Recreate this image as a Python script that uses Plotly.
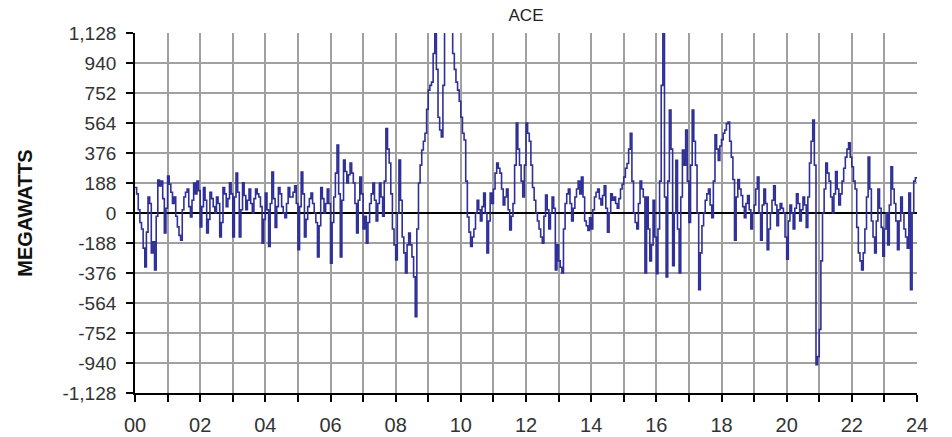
import plotly.graph_objects as go

# ACE values in MW, 3-minute samples (20 per hour), hour 0.0 .. 24.0
hour_labels = ["00", "02", "04", "06", "08", "10", "12", "14", "16", "18", "20", "22", "24"]
y_ticks = [-1128, -940, -752, -564, -376, -188, 0, 188, 376, 564, 752, 940, 1128]

ace_h00 = [160, 120, 20, -60, -100, -220, -338, -120, 100, 60, -250, -180, -357, -20, 207, 170, 200, 90, -125, 30]
ace_h01 = [232, 180, 130, 60, 100, -20, -87, -140, -170, 20, 100, 130, 150, 40, -25, 80, 188, 120, 200, 140]
ace_h02 = [-87, 40, 160, 80, -125, -40, 130, 90, 40, 0, 100, 60, -150, -60, 160, 120, 40, 90, 190, 120]
ace_h03 = [-150, 100, 250, 130, -150, 20, 190, 110, 20, 80, 150, 60, 0, 90, 150, 120, 100, 40, -190, -40]
ace_h04 = [125, 20, -210, 60, 257, 90, -90, 40, 160, 120, 40, 0, -30, 60, 160, 100, 100, 130, 170, 60]
ace_h05 = [-230, 40, 257, 120, -150, -40, 40, 90, 125, 60, 0, -60, -275, -80, 160, 90, 0, 60, 150, 60]
ace_h06 = [-315, -60, 100, 250, 426, 120, -275, 80, 332, 260, 188, 240, 313, 250, 188, 60, -125, 80, 225, 120]
ace_h07 = [-100, -20, -190, -60, 60, 120, 188, 80, -50, 60, 188, 100, -20, 200, 530, 400, 313, 120, -100, -200]
ace_h08 = [-295, 0, 332, 80, -150, -250, -376, -200, -125, -200, -275, -400, -650, -100, 188, 300, 395, 450, 500, 650]
ace_h09 = [770, 800, 820, 1000, 1300, 900, 600, 520, 476, 800, 1300, 1300, 1300, 1300, 1250, 1000, 900, 820, 770, 700]
ace_h10 = [600, 500, 457, 200, -25, -120, -210, -150, -100, 0, 80, 20, -50, 40, 125, 0, -250, -50, 125, 60]
ace_h11 = [150, 250, 313, 280, 250, 150, 50, 100, 150, 20, -107, -20, 60, 300, 564, 400, 300, 200, 100, 300]
ace_h12 = [564, 500, 450, 300, 160, 80, 0, -50, -100, -150, -190, -20, 113, 20, -100, 0, 100, 30, -357, -200]
ace_h13 = [-300, -340, -376, -100, 60, 120, 150, 60, -50, 30, 100, 150, 200, 120, 225, 100, -50, -80, -110, -30]
ace_h14 = [-100, 20, 100, 130, 150, 90, 50, 110, 170, 30, -120, 0, 120, 80, 100, 60, 30, 90, 150, 180]
ace_h15 = [225, 280, 310, 400, 500, 200, 0, -60, -100, 60, 200, 150, 100, -375, 100, -100, -300, -200, 80, -150]
ace_h16 = [-380, -100, 200, 800, 1300, 100, -400, 200, 645, 400, -330, 0, 330, -100, -376, 100, 395, 300, 520, 200]
ace_h17 = [-60, 300, 645, 450, 300, 0, -480, -250, -80, 0, 80, 120, 150, 50, -30, 200, 490, 400, 330, 420]
ace_h18 = [460, 500, 520, 560, 570, 450, 350, 210, -170, 100, 210, 150, 110, 40, -30, 60, 110, 20, -100, 0]
ace_h19 = [50, 150, 225, 0, -170, 50, 150, 60, -230, -100, 0, 80, 170, 50, -80, 20, 60, 30, 0, -150]
ace_h20 = [-290, -50, 50, 0, -100, 30, 120, 60, -50, 20, 100, 50, -90, 100, 313, 450, 583, 300, -950, -900]
ace_h21 = [-730, -300, 0, 150, 313, 250, 200, 100, 0, 120, 260, 150, 50, 120, 200, 280, 350, 400, 440, 350]
ace_h22 = [290, 200, 150, -90, -250, -300, -357, -250, -100, 100, 350, 150, -50, -150, -250, -50, 150, 30, -90, -270]
ace_h23 = [-100, 0, -200, 50, 290, 150, 60, -50, -230, -50, 100, 0, -100, -150, -220, 125, -480, 0, 200, 220]
ace_end = [220]

ace = (ace_h00 + ace_h01 + ace_h02 + ace_h03 + ace_h04 + ace_h05 + ace_h06 + ace_h07
       + ace_h08 + ace_h09 + ace_h10 + ace_h11 + ace_h12 + ace_h13 + ace_h14 + ace_h15
       + ace_h16 + ace_h17 + ace_h18 + ace_h19 + ace_h20 + ace_h21 + ace_h22 + ace_h23 + ace_end)
hours = [i / 20 for i in range(len(ace))]

fig = go.Figure()
fig.add_trace(go.Scatter(
    x=hours, y=ace, mode="lines", line_shape="hv",
    line=dict(color="#2f2f98", width=1.6), showlegend=False,
))

fig.update_layout(
    width=952, height=437,
    margin=dict(l=135, r=35, t=33, b=44),
    paper_bgcolor="white", plot_bgcolor="white",
    font=dict(family="Liberation Sans, Arial, sans-serif", color="#333333"),
    title=dict(text="ACE", x=(135 + 917) / 2 / 952, xanchor="center", y=1 - 15 / 437, yanchor="middle",
               font=dict(size=17, color="#222222")),
)

fig.update_xaxes(
    range=[0, 24], automargin=False,
    tickvals=list(range(0, 25)),
    ticktext=[hour_labels[i // 2] if i % 2 == 0 else "" for i in range(25)],
    ticks="outside", ticklen=7, tickcolor="black", tickwidth=1.5,
    ticklabelstandoff=6,
    showline=True, linecolor="black", linewidth=1.8,
    showgrid=True, gridcolor="#a0a0a0", gridwidth=2,
    tickfont=dict(size=20, color="#333333"),
    zeroline=False,
)
fig.update_yaxes(
    range=[-1128, 1128], automargin=False,
    tickvals=y_ticks,
    ticktext=[f"{v:,}" for v in y_ticks],
    ticks="outside", ticklen=7, tickcolor="black", tickwidth=1.5,
    ticklabelstandoff=6,
    showline=True, linecolor="black", linewidth=1.8,
    showgrid=True, gridcolor="#a0a0a0", gridwidth=2,
    zeroline=True, zerolinecolor="black", zerolinewidth=1.5,
    tickfont=dict(size=19, color="#333333"),
    title=dict(text="<b>MEGAWATTS</b>", font=dict(size=20, color="#111111"), standoff=24),
)

fig.write_html("out.html")
